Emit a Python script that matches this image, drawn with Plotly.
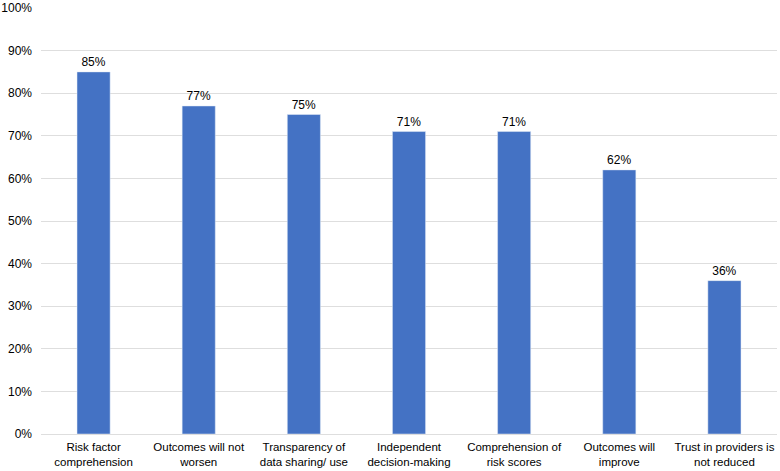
import plotly.graph_objects as go

categories = ["Risk factor<br>comprehension", "Outcomes will not<br>worsen", "Transparency of<br>data sharing/ use",
              "Independent<br>decision-making", "Comprehension of<br>risk scores", "Outcomes will<br>improve",
              "Trust in providers is<br>not reduced"]
values = [85, 77, 75, 71, 71, 62, 36]
labels = [f"{v}%" for v in values]
tick_vals = list(range(0, 101, 10))
tick_text = [f"{v}%" for v in tick_vals]

fig = go.Figure(go.Bar(
    x=categories, y=values, text=labels, textposition="outside",
    marker_color="#4472C4", width=0.315, cliponaxis=False,
    textfont=dict(size=12, color="#000000"),
))
fig.update_layout(
    width=780, height=471, margin=dict(l=41, r=3, t=8, b=37, autoexpand=False),
    plot_bgcolor="white", paper_bgcolor="white",
    font=dict(family="Liberation Sans, Arial, sans-serif", size=12, color="#000000"),
    showlegend=False, bargap=0.685,
)
fig.update_yaxes(range=[0, 100], tickvals=tick_vals, ticktext=tick_text, automargin=False,
                 showgrid=True, gridcolor="#dedede", gridwidth=1, zeroline=False,
                 showline=False, ticks="", ticklen=0, ticklabelstandoff=8)
fig.update_xaxes(showline=True, linecolor="#dedede", linewidth=1, ticks="", tickangle=0,
                 automargin=False, tickfont=dict(size=11.5), ticklabelstandoff=2)
fig.write_html("out.html", config={"displayModeBar": False},
               post_script="document.body.style.margin='0';")
